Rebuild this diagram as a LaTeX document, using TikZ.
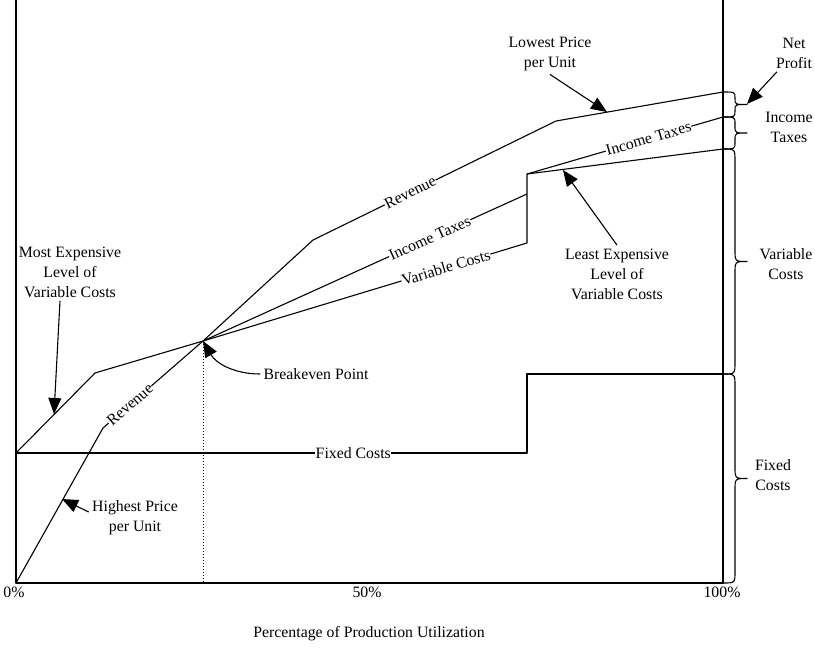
\documentclass[tikz,border=0pt]{standalone}
\usepackage{fontspec}
\setmainfont{Liberation Serif}
\usetikzlibrary{arrows.meta}

\tikzset{
    every node/.style={font=\fontsize{15.8}{20}\selectfont},
    curve/.style={line width=1.1pt, line join=round},
    onlabel/.style={sloped, fill=white, inner sep=0.5pt},
    note/.style={align=center},
    pointer/.style={line width=1.1pt, -{Triangle[length=16pt,width=13pt]}}
}

% right-hand brace: top, bottom, corner radius
\newcommand{\sidebrace}[3]{%
    \pgfmathsetmacro{\bmid}{(#1+#2)/2}
    \draw[curve] (723,#1) .. controls (735,#1) .. (735,{#1+#3})
        -- (735,{\bmid-#3}) .. controls (735,\bmid) .. (747,\bmid)
        .. controls (735,\bmid) .. (735,{\bmid+#3})
        -- (735,{#2-#3}) .. controls (735,#2) .. (723,#2);
}

\begin{document}
\begin{tikzpicture}[x=1pt, y=-1pt]
    \useasboundingbox (0,0) rectangle (815,649);

    % Axes
    \draw[curve] (16,0) -- (16,583) -- (723,583) -- (723,0);
    \node (zero) at (14,592) {0\%};
    \node (half) at (367,592) {50\%};
    \node (full) at (722,592) {100\%};
    \node (xlabel) at (369,634) {Percentage of Production Utilization};

    % Key points
    \coordinate (be) at (203,341);
    \coordinate (mx) at (54,414);
    \coordinate (hp) at (62,499);
    \coordinate (lp) at (607,112);
    \coordinate (lx) at (563,170);
    \coordinate (np) at (747,104);

    % Fixed costs
    \draw[curve] (16,453) -- node[onlabel, pos=0.66] {Fixed Costs} (527,453) -- (527,374) -- (723,374);

    % Variable costs
    \draw[curve] (16,453) -- (95,373) -- (be)
        -- node[onlabel, pos=0.75] {Variable Costs} (527,243) -- (527,174) -- (723,149);

    % Income taxes
    \draw[curve] (be) -- node[onlabel, pos=0.70] {Income Taxes} (527,194);
    \draw[curve] (527,174) -- node[onlabel, pos=0.62] {Income Taxes} (723,117);

    % Revenue
    \draw[curve] (16,583) -- (103,428) -- node[onlabel, pos=0.27] {Revenue} (be)
        -- (313,240) -- node[onlabel, pos=0.40] {Revenue} (556,121) -- (723,92);

    % Breakeven
    \draw[line width=1pt, dotted] (be) -- (203,583);

    % Notes
    \node[note] (mostexp) at (70,272) {Most Expensive\\Level of\\Variable Costs};
    \node[note] (highp) at (135,518) {Highest Price\\per Unit};
    \node (bep) at (316,374) {Breakeven Point};
    \node[note] (lowp) at (550,54) {Lowest Price\\per Unit};
    \node[note] (leastexp) at (617,274) {Least Expensive\\Level of\\Variable Costs};
    \node[note] (netp) at (794,53) {Net\\Profit};

    \draw[pointer] ([xshift=-10pt]mostexp.south) -- (mx);
    \draw[pointer] ([yshift=6pt]highp.west) -- (hp);
    \draw[pointer] (bep.west) to[out=180, in=-60] (be);
    \draw[pointer] (lowp.south) -- (lp);
    \draw[pointer] (leastexp.north) -- (lx);
    \draw[pointer] ([xshift=-17pt]netp.south) -- (np);

    % Braces
    \sidebrace{92}{117}{6}
    \sidebrace{117}{149}{7}
    \sidebrace{149}{374}{12}
    \sidebrace{374}{583}{12}
    \node[note] (taxlbl) at (789,127) {Income\\Taxes};
    \node[note] (varlbl) at (786,264) {Variable\\Costs};
    \node[note] (fixlbl) at (773,475) {Fixed\\Costs};
\end{tikzpicture}
\end{document}
